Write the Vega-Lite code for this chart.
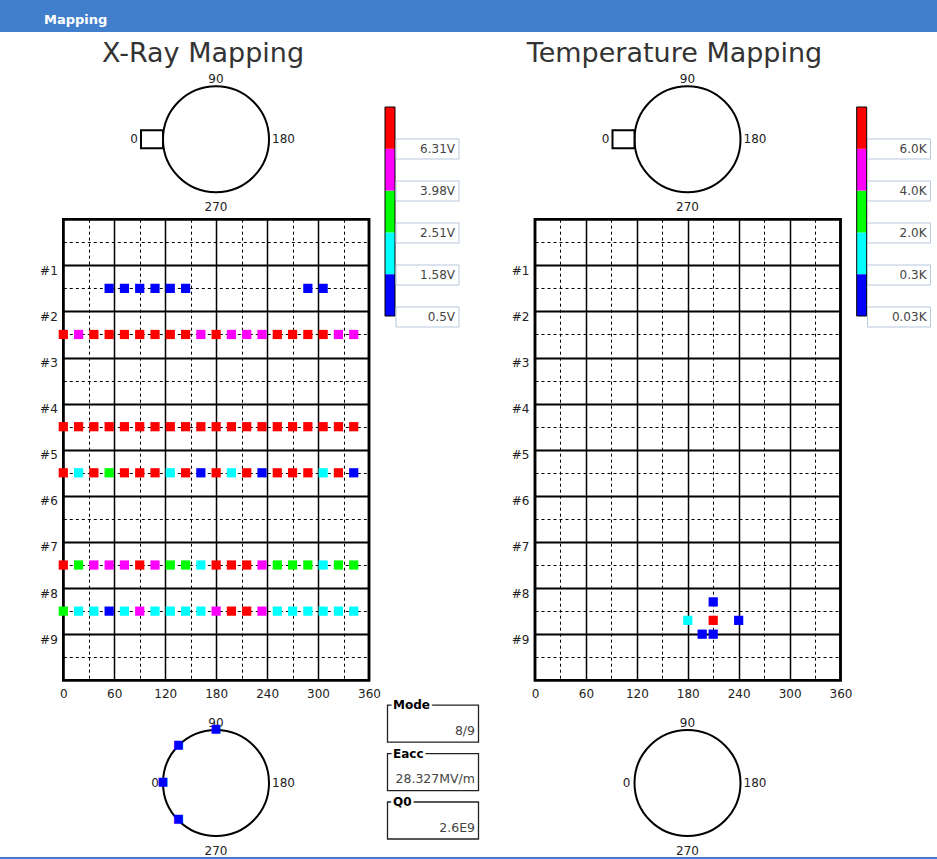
{
  "$schema": "https://vega.github.io/schema/vega-lite/v6.json",
  "width": 937,
  "height": 825,
  "autosize": {"type": "none"},
  "padding": {"left": 0, "top": 32, "right": 0, "bottom": 2},
  "background": "#417fcd",
  "view": {"fill": "white", "stroke": null},
  "title": {"text": "Mapping", "anchor": "start", "frame": "group", "color": "white", "fontSize": 13, "fontWeight": "bold", "font": "DejaVu Sans", "offset": 5, "dx": 44},
  "config": {"font": "DejaVu Sans"},
  "datasets": {
    "xray": [
      {"angle": 54, "pos": 1.5, "level": 1}, {"angle": 72, "pos": 1.5, "level": 1}, {"angle": 90, "pos": 1.5, "level": 1}, {"angle": 108, "pos": 1.5, "level": 1}, {"angle": 126, "pos": 1.5, "level": 1}, {"angle": 144, "pos": 1.5, "level": 1}, {"angle": 288, "pos": 1.5, "level": 1}, {"angle": 306, "pos": 1.5, "level": 1},
      {"angle": 0, "pos": 2.5, "level": 5}, {"angle": 18, "pos": 2.5, "level": 4}, {"angle": 36, "pos": 2.5, "level": 5}, {"angle": 54, "pos": 2.5, "level": 5}, {"angle": 72, "pos": 2.5, "level": 5}, {"angle": 90, "pos": 2.5, "level": 5}, {"angle": 108, "pos": 2.5, "level": 5}, {"angle": 126, "pos": 2.5, "level": 5}, {"angle": 144, "pos": 2.5, "level": 5}, {"angle": 162, "pos": 2.5, "level": 4}, {"angle": 180, "pos": 2.5, "level": 5}, {"angle": 198, "pos": 2.5, "level": 4}, {"angle": 216, "pos": 2.5, "level": 4}, {"angle": 234, "pos": 2.5, "level": 4}, {"angle": 252, "pos": 2.5, "level": 5}, {"angle": 270, "pos": 2.5, "level": 5}, {"angle": 288, "pos": 2.5, "level": 5}, {"angle": 306, "pos": 2.5, "level": 5}, {"angle": 324, "pos": 2.5, "level": 4}, {"angle": 342, "pos": 2.5, "level": 4},
      {"angle": 0, "pos": 4.5, "level": 5}, {"angle": 18, "pos": 4.5, "level": 5}, {"angle": 36, "pos": 4.5, "level": 5}, {"angle": 54, "pos": 4.5, "level": 5}, {"angle": 72, "pos": 4.5, "level": 5}, {"angle": 90, "pos": 4.5, "level": 5}, {"angle": 108, "pos": 4.5, "level": 5}, {"angle": 126, "pos": 4.5, "level": 5}, {"angle": 144, "pos": 4.5, "level": 5}, {"angle": 162, "pos": 4.5, "level": 5}, {"angle": 180, "pos": 4.5, "level": 5}, {"angle": 198, "pos": 4.5, "level": 5}, {"angle": 216, "pos": 4.5, "level": 5}, {"angle": 234, "pos": 4.5, "level": 5}, {"angle": 252, "pos": 4.5, "level": 5}, {"angle": 270, "pos": 4.5, "level": 5}, {"angle": 288, "pos": 4.5, "level": 5}, {"angle": 306, "pos": 4.5, "level": 5}, {"angle": 324, "pos": 4.5, "level": 5}, {"angle": 342, "pos": 4.5, "level": 5},
      {"angle": 0, "pos": 5.5, "level": 5}, {"angle": 18, "pos": 5.5, "level": 2}, {"angle": 36, "pos": 5.5, "level": 5}, {"angle": 54, "pos": 5.5, "level": 3}, {"angle": 72, "pos": 5.5, "level": 5}, {"angle": 90, "pos": 5.5, "level": 5}, {"angle": 108, "pos": 5.5, "level": 5}, {"angle": 126, "pos": 5.5, "level": 2}, {"angle": 144, "pos": 5.5, "level": 5}, {"angle": 162, "pos": 5.5, "level": 1}, {"angle": 180, "pos": 5.5, "level": 5}, {"angle": 198, "pos": 5.5, "level": 2}, {"angle": 216, "pos": 5.5, "level": 5}, {"angle": 234, "pos": 5.5, "level": 1}, {"angle": 252, "pos": 5.5, "level": 5}, {"angle": 270, "pos": 5.5, "level": 5}, {"angle": 288, "pos": 5.5, "level": 5}, {"angle": 306, "pos": 5.5, "level": 2}, {"angle": 324, "pos": 5.5, "level": 5}, {"angle": 342, "pos": 5.5, "level": 1},
      {"angle": 0, "pos": 7.5, "level": 5}, {"angle": 18, "pos": 7.5, "level": 3}, {"angle": 36, "pos": 7.5, "level": 4}, {"angle": 54, "pos": 7.5, "level": 4}, {"angle": 72, "pos": 7.5, "level": 4}, {"angle": 90, "pos": 7.5, "level": 5}, {"angle": 108, "pos": 7.5, "level": 4}, {"angle": 126, "pos": 7.5, "level": 3}, {"angle": 144, "pos": 7.5, "level": 3}, {"angle": 162, "pos": 7.5, "level": 2}, {"angle": 180, "pos": 7.5, "level": 5}, {"angle": 198, "pos": 7.5, "level": 5}, {"angle": 216, "pos": 7.5, "level": 5}, {"angle": 234, "pos": 7.5, "level": 4}, {"angle": 252, "pos": 7.5, "level": 3}, {"angle": 270, "pos": 7.5, "level": 3}, {"angle": 288, "pos": 7.5, "level": 3}, {"angle": 306, "pos": 7.5, "level": 2}, {"angle": 324, "pos": 7.5, "level": 3}, {"angle": 342, "pos": 7.5, "level": 3},
      {"angle": 0, "pos": 8.5, "level": 3}, {"angle": 18, "pos": 8.5, "level": 2}, {"angle": 36, "pos": 8.5, "level": 2}, {"angle": 54, "pos": 8.5, "level": 1}, {"angle": 72, "pos": 8.5, "level": 2}, {"angle": 90, "pos": 8.5, "level": 4}, {"angle": 108, "pos": 8.5, "level": 2}, {"angle": 126, "pos": 8.5, "level": 2}, {"angle": 144, "pos": 8.5, "level": 2}, {"angle": 162, "pos": 8.5, "level": 2}, {"angle": 180, "pos": 8.5, "level": 4}, {"angle": 198, "pos": 8.5, "level": 5}, {"angle": 216, "pos": 8.5, "level": 5}, {"angle": 234, "pos": 8.5, "level": 4}, {"angle": 252, "pos": 8.5, "level": 2}, {"angle": 270, "pos": 8.5, "level": 2}, {"angle": 288, "pos": 8.5, "level": 2}, {"angle": 306, "pos": 8.5, "level": 2}, {"angle": 324, "pos": 8.5, "level": 2}, {"angle": 342, "pos": 8.5, "level": 2}
    ],
    "temp": [
      {"angle": 210, "pos": 8.3, "level": 1}, {"angle": 180, "pos": 8.7, "level": 2}, {"angle": 210, "pos": 8.7, "level": 5}, {"angle": 240, "pos": 8.7, "level": 1}, {"angle": 197, "pos": 9, "level": 1}, {"angle": 210, "pos": 9, "level": 1}
    ],
    "panels": [
      {"panel": "X-Ray", "title": "X-Ray Mapping"},
      {"panel": "Temperature", "title": "Temperature Mapping"}
    ],
    "rings": [
      {"panel": "X-Ray", "section": "top ring"}, {"panel": "X-Ray", "section": "bottom ring"},
      {"panel": "Temperature", "section": "top ring"}, {"panel": "Temperature", "section": "bottom ring"}
    ],
    "ringLabels": [
      {"panel": "X-Ray", "section": "top ring", "angle": 0, "label": "0"}, {"panel": "X-Ray", "section": "top ring", "angle": 90, "label": "90"}, {"panel": "X-Ray", "section": "top ring", "angle": 180, "label": "180"}, {"panel": "X-Ray", "section": "top ring", "angle": 270, "label": "270"},
      {"panel": "X-Ray", "section": "bottom ring", "angle": 0, "label": "0"}, {"panel": "X-Ray", "section": "bottom ring", "angle": 90, "label": "90"}, {"panel": "X-Ray", "section": "bottom ring", "angle": 180, "label": "180"}, {"panel": "X-Ray", "section": "bottom ring", "angle": 270, "label": "270"},
      {"panel": "Temperature", "section": "top ring", "angle": 0, "label": "0"}, {"panel": "Temperature", "section": "top ring", "angle": 90, "label": "90"}, {"panel": "Temperature", "section": "top ring", "angle": 180, "label": "180"}, {"panel": "Temperature", "section": "top ring", "angle": 270, "label": "270"},
      {"panel": "Temperature", "section": "bottom ring", "angle": 0, "label": "0"}, {"panel": "Temperature", "section": "bottom ring", "angle": 90, "label": "90"}, {"panel": "Temperature", "section": "bottom ring", "angle": 180, "label": "180"}, {"panel": "Temperature", "section": "bottom ring", "angle": 270, "label": "270"}
    ],
    "sensors": [
      {"panel": "X-Ray", "section": "bottom ring", "angle": 0, "marker": "■"}, {"panel": "X-Ray", "section": "bottom ring", "angle": 45, "marker": "■"}, {"panel": "X-Ray", "section": "bottom ring", "angle": 90, "marker": "■"}, {"panel": "X-Ray", "section": "bottom ring", "angle": 315, "marker": "■"}
    ],
    "scale": [
      {"panel": "X-Ray", "level": 1, "label": "0.5V"}, {"panel": "X-Ray", "level": 2, "label": "1.58V"}, {"panel": "X-Ray", "level": 3, "label": "2.51V"}, {"panel": "X-Ray", "level": 4, "label": "3.98V"}, {"panel": "X-Ray", "level": 5, "label": "6.31V"},
      {"panel": "Temperature", "level": 1, "label": "0.03K"}, {"panel": "Temperature", "level": 2, "label": "0.3K"}, {"panel": "Temperature", "level": 3, "label": "2.0K"}, {"panel": "Temperature", "level": 4, "label": "4.0K"}, {"panel": "Temperature", "level": 5, "label": "6.0K"}
    ],
    "info": [
      {"panel": "X-Ray", "quantity": "Mode", "value": "8/9"},
      {"panel": "X-Ray", "quantity": "Eacc", "value": "28.327MV/m"},
      {"panel": "X-Ray", "quantity": "Q0", "value": "2.6E9"}
    ]
  },
  "resolve": {"scale": {"x": "independent", "y": "independent"}},
  "layer": [
    {
      "data": {"values": [{"panel": "X-Ray"}]},
      "mark": {"type": "rect", "fill": "transparent", "stroke": "#000", "strokeWidth": 2.5},
      "encoding": {
        "x": {"datum": 0, "type": "quantitative", "scale": {"domain": [0, 360], "range": [63.3, 369], "nice": false, "zero": false},
          "axis": {"orient": "top", "values": [60, 120, 180, 240, 300], "grid": true, "gridColor": "#000", "gridWidth": 1.5, "gridOpacity": 1, "domain": false, "ticks": false, "labels": false, "title": null}},
        "x2": {"datum": 360},
        "y": {"datum": 0, "type": "quantitative", "scale": {"domain": [0, 10], "range": [187.2, 648.3], "nice": false, "zero": false},
          "axis": {"orient": "left", "offset": -63.3, "values": [1, 2, 3, 4, 5, 6, 7, 8, 9], "labelExpr": "'#' + datum.value", "grid": true, "gridColor": "#000", "gridWidth": 2, "gridOpacity": 1, "domain": false, "ticks": false, "tickSize": 0, "labelPadding": 6, "labelBaseline": "top", "labelOverlap": false, "labelFontSize": 12, "labelColor": "#222", "title": null}},
        "y2": {"datum": 10}
      }
    },
    {
      "data": {"values": [{"panel": "X-Ray"}]},
      "mark": {"type": "rect", "fill": "transparent", "stroke": "#000", "strokeWidth": 2.5},
      "encoding": {
        "x": {"datum": 0, "type": "quantitative", "scale": {"domain": [0, 360], "range": [63.3, 369], "nice": false, "zero": false},
          "axis": {"orient": "bottom", "offset": -176.7, "values": [0, 60, 120, 180, 240, 300, 360], "grid": false, "domain": false, "ticks": false, "tickSize": 0, "labelPadding": 8, "labelFlush": false, "labelOverlap": false, "labelFontSize": 12, "labelColor": "#222", "title": null}},
        "x2": {"datum": 360},
        "y": {"datum": 0, "type": "quantitative", "scale": {"domain": [0, 10], "range": [187.2, 648.3], "nice": false, "zero": false}, "axis": null},
        "y2": {"datum": 10}
      }
    },
    {
      "data": {"name": "xray"},
      "mark": {"type": "point", "shape": "square", "filled": true, "size": 85, "opacity": 1, "strokeWidth": 0},
      "encoding": {
        "x": {"field": "angle", "type": "quantitative", "scale": {"domain": [0, 360], "range": [63.3, 369], "nice": false, "zero": false},
          "axis": {"orient": "top", "values": [30, 90, 150, 210, 270, 330], "grid": true, "gridColor": "#000", "gridWidth": 1, "gridDash": [3, 3], "gridOpacity": 1, "domain": false, "ticks": false, "labels": false, "title": null}},
        "y": {"field": "pos", "type": "quantitative", "scale": {"domain": [0, 10], "range": [187.2, 648.3], "nice": false, "zero": false},
          "axis": {"orient": "left", "values": [0.5, 1.5, 2.5, 3.5, 4.5, 5.5, 6.5, 7.5, 8.5, 9.5], "grid": true, "gridColor": "#000", "gridWidth": 1, "gridDash": [3, 3], "gridOpacity": 1, "domain": false, "ticks": false, "labels": false, "title": null}},
        "color": {"field": "level", "type": "ordinal", "scale": {"domain": [1, 2, 3, 4, 5], "range": ["#0000ff", "#00ffff", "#00ff00", "#ff00ff", "#ff0000"]}, "legend": null}
      }
    },
    {
      "data": {"values": [{"panel": "Temperature"}]},
      "mark": {"type": "rect", "fill": "transparent", "stroke": "#000", "strokeWidth": 2.5},
      "encoding": {
        "x": {"datum": 0, "type": "quantitative", "scale": {"domain": [0, 360], "range": [535, 840.5], "nice": false, "zero": false},
          "axis": {"orient": "top", "values": [60, 120, 180, 240, 300], "grid": true, "gridColor": "#000", "gridWidth": 1.5, "gridOpacity": 1, "domain": false, "ticks": false, "labels": false, "title": null}},
        "x2": {"datum": 360},
        "y": {"datum": 0, "type": "quantitative", "scale": {"domain": [0, 10], "range": [187.2, 648.3], "nice": false, "zero": false},
          "axis": {"orient": "left", "offset": -535, "values": [1, 2, 3, 4, 5, 6, 7, 8, 9], "labelExpr": "'#' + datum.value", "grid": true, "gridColor": "#000", "gridWidth": 2, "gridOpacity": 1, "domain": false, "ticks": false, "tickSize": 0, "labelPadding": 6, "labelBaseline": "top", "labelOverlap": false, "labelFontSize": 12, "labelColor": "#222", "title": null}},
        "y2": {"datum": 10}
      }
    },
    {
      "data": {"values": [{"panel": "Temperature"}]},
      "mark": {"type": "rect", "fill": "transparent", "stroke": "#000", "strokeWidth": 2.5},
      "encoding": {
        "x": {"datum": 0, "type": "quantitative", "scale": {"domain": [0, 360], "range": [535, 840.5], "nice": false, "zero": false},
          "axis": {"orient": "bottom", "offset": -176.7, "values": [0, 60, 120, 180, 240, 300, 360], "grid": false, "domain": false, "ticks": false, "tickSize": 0, "labelPadding": 8, "labelFlush": false, "labelOverlap": false, "labelFontSize": 12, "labelColor": "#222", "title": null}},
        "x2": {"datum": 360},
        "y": {"datum": 0, "type": "quantitative", "scale": {"domain": [0, 10], "range": [187.2, 648.3], "nice": false, "zero": false}, "axis": null},
        "y2": {"datum": 10}
      }
    },
    {
      "data": {"name": "temp"},
      "mark": {"type": "point", "shape": "square", "filled": true, "size": 85, "opacity": 1, "strokeWidth": 0},
      "encoding": {
        "x": {"field": "angle", "type": "quantitative", "scale": {"domain": [0, 360], "range": [535, 840.5], "nice": false, "zero": false},
          "axis": {"orient": "top", "values": [30, 90, 150, 210, 270, 330], "grid": true, "gridColor": "#000", "gridWidth": 1, "gridDash": [3, 3], "gridOpacity": 1, "domain": false, "ticks": false, "labels": false, "title": null}},
        "y": {"field": "pos", "type": "quantitative", "scale": {"domain": [0, 10], "range": [187.2, 648.3], "nice": false, "zero": false},
          "axis": {"orient": "left", "values": [0.5, 1.5, 2.5, 3.5, 4.5, 5.5, 6.5, 7.5, 8.5, 9.5], "grid": true, "gridColor": "#000", "gridWidth": 1, "gridDash": [3, 3], "gridOpacity": 1, "domain": false, "ticks": false, "labels": false, "title": null}},
        "color": {"field": "level", "type": "ordinal", "scale": {"domain": [1, 2, 3, 4, 5], "range": ["#0000ff", "#00ffff", "#00ff00", "#ff00ff", "#ff0000"]}, "legend": null}
      }
    },
    {
      "encoding": {
        "x": {"field": "panel", "type": "nominal", "scale": {"type": "point", "domain": ["X-Ray", "Temperature"], "range": [216, 687.5], "padding": 0}, "axis": null},
        "y": {"field": "section", "type": "nominal", "scale": {"type": "point", "domain": ["top ring", "bottom ring"], "range": [107.3, 751], "padding": 0}, "axis": null}
      },
      "layer": [
        {
          "data": {"name": "panels"},
          "mark": {"type": "text", "fontSize": 27, "color": "#333", "dx": -13, "dy": -85.5, "align": "center", "baseline": "middle"},
          "encoding": {"y": {"datum": "top ring", "type": "nominal"}, "text": {"field": "title"}}
        },
        {
          "data": {"name": "rings"},
          "mark": {"type": "point", "shape": "circle", "size": 11236, "filled": false, "stroke": "#000", "strokeWidth": 2, "opacity": 1}
        },
        {
          "data": {"name": "rings"},
          "transform": [{"filter": "datum.section === 'top ring'"}],
          "mark": {"type": "point", "shape": "M-75,-9H-53V9H-75Z", "size": 4, "filled": true, "fill": "#fff", "stroke": "#000", "strokeWidth": 2, "opacity": 1}
        },
        {
          "data": {"name": "ringLabels"},
          "transform": [{"filter": "datum.angle === 90"}],
          "mark": {"type": "text", "radius": 60, "align": "center", "baseline": "middle", "fontSize": 12, "color": "#222"},
          "encoding": {"theta": {"field": "angle", "type": "quantitative", "scale": {"domain": [0, 360], "range": [-1.5708, 4.7124]}}, "text": {"field": "label"}}
        },
        {
          "data": {"name": "ringLabels"},
          "transform": [{"filter": "datum.angle === 270"}],
          "mark": {"type": "text", "radius": 68, "align": "center", "baseline": "middle", "fontSize": 12, "color": "#222"},
          "encoding": {"theta": {"field": "angle", "type": "quantitative", "scale": {"domain": [0, 360], "range": [-1.5708, 4.7124]}}, "text": {"field": "label"}}
        },
        {
          "data": {"name": "ringLabels"},
          "transform": [{"filter": "datum.angle === 180"}],
          "mark": {"type": "text", "radius": 56, "align": "left", "baseline": "middle", "fontSize": 12, "color": "#222"},
          "encoding": {"theta": {"field": "angle", "type": "quantitative", "scale": {"domain": [0, 360], "range": [-1.5708, 4.7124]}}, "text": {"field": "label"}}
        },
        {
          "data": {"name": "ringLabels"},
          "transform": [{"filter": "datum.angle === 0 && datum.section === 'top ring'"}],
          "mark": {"type": "text", "radius": 78, "align": "right", "baseline": "middle", "fontSize": 12, "color": "#222"},
          "encoding": {"theta": {"field": "angle", "type": "quantitative", "scale": {"domain": [0, 360], "range": [-1.5708, 4.7124]}}, "text": {"field": "label"}}
        },
        {
          "data": {"name": "ringLabels"},
          "transform": [{"filter": "datum.angle === 0 && datum.section === 'bottom ring'"}],
          "mark": {"type": "text", "radius": 57, "align": "right", "baseline": "middle", "fontSize": 12, "color": "#222"},
          "encoding": {"theta": {"field": "angle", "type": "quantitative", "scale": {"domain": [0, 360], "range": [-1.5708, 4.7124]}}, "text": {"field": "label"}}
        },
        {
          "data": {"name": "sensors"},
          "mark": {"type": "text", "radius": 53, "align": "center", "baseline": "middle", "dy": -1, "font": "DejaVu Sans", "fontSize": 11.5, "color": "#0000ff"},
          "encoding": {"theta": {"field": "angle", "type": "quantitative", "scale": {"domain": [0, 360], "range": [-1.5708, 4.7124]}}, "text": {"field": "marker"}}
        }
      ]
    },
    {
      "data": {"name": "scale"},
      "encoding": {
        "x": {"field": "panel", "type": "nominal", "scale": {"type": "point", "domain": ["X-Ray", "Temperature"], "range": [390, 861.7], "padding": 0}, "axis": null}
      },
      "layer": [
        {
          "mark": {"type": "bar", "width": 10},
          "encoding": {
            "y": {"aggregate": "count", "type": "quantitative", "scale": {"domain": [0, 5], "range": [284, 75], "nice": false, "zero": false}, "axis": null},
            "color": {"field": "level", "type": "ordinal", "scale": {"domain": [1, 2, 3, 4, 5], "range": ["#0000ff", "#00ffff", "#00ff00", "#ff00ff", "#ff0000"]}, "legend": null},
            "order": {"field": "level", "type": "quantitative", "sort": "ascending"}
          }
        },
        {
          "mark": {"type": "bar", "width": 10, "fill": "transparent", "stroke": "#000", "strokeWidth": 1},
          "encoding": {
            "y": {"aggregate": "count", "type": "quantitative", "axis": null}
          }
        }
      ]
    },
    {
      "data": {"name": "scale"},
      "encoding": {
        "x": {"field": "panel", "type": "nominal", "scale": {"type": "point", "domain": ["X-Ray", "Temperature"], "range": [427.5, 899], "padding": 0}, "axis": null},
        "y": {"field": "level", "type": "ordinal", "scale": {"type": "point", "domain": [5, 4, 3, 2, 1], "range": [117, 285], "padding": 0}, "axis": null}
      },
      "layer": [
        {"mark": {"type": "point", "shape": "M-31.5,-10H31.5V10H-31.5Z", "size": 4, "filled": true, "fill": "#fff", "stroke": "#b7c9dd", "strokeWidth": 1, "opacity": 1}},
        {"mark": {"type": "text", "align": "right", "baseline": "middle", "dx": 27.5, "fontSize": 12, "color": "#444"}, "encoding": {"text": {"field": "label"}}}
      ]
    },
    {
      "data": {"name": "info"},
      "encoding": {
        "x": {"field": "panel", "type": "nominal", "scale": {"type": "point", "domain": ["X-Ray", "Temperature"], "range": [433, 904], "padding": 0}, "axis": null},
        "y": {"field": "quantity", "type": "nominal", "scale": {"type": "point", "domain": ["Mode", "Eacc", "Q0"], "range": [691.7, 788.5], "padding": 0}, "axis": null}
      },
      "layer": [
        {"mark": {"type": "point", "shape": "M-45.5,-18.5H45.5V18.5H-45.5Z", "size": 4, "filled": true, "fill": "#fff", "stroke": "#222", "strokeWidth": 1.3, "opacity": 1}},
        {"mark": {"type": "text", "align": "left", "baseline": "middle", "dx": -40, "dy": -18.5, "fontSize": 12, "fontWeight": "bold", "color": "#fff", "stroke": "#fff", "strokeWidth": 5}, "encoding": {"text": {"field": "quantity"}}},
        {"mark": {"type": "text", "align": "left", "baseline": "middle", "dx": -40, "dy": -18.5, "fontSize": 12, "fontWeight": "bold", "color": "#000"}, "encoding": {"text": {"field": "quantity"}}},
        {"mark": {"type": "text", "align": "right", "baseline": "middle", "dx": 42, "dy": 7, "fontSize": 12.5, "color": "#444"}, "encoding": {"text": {"field": "value"}}}
      ]
    }
  ]
}
